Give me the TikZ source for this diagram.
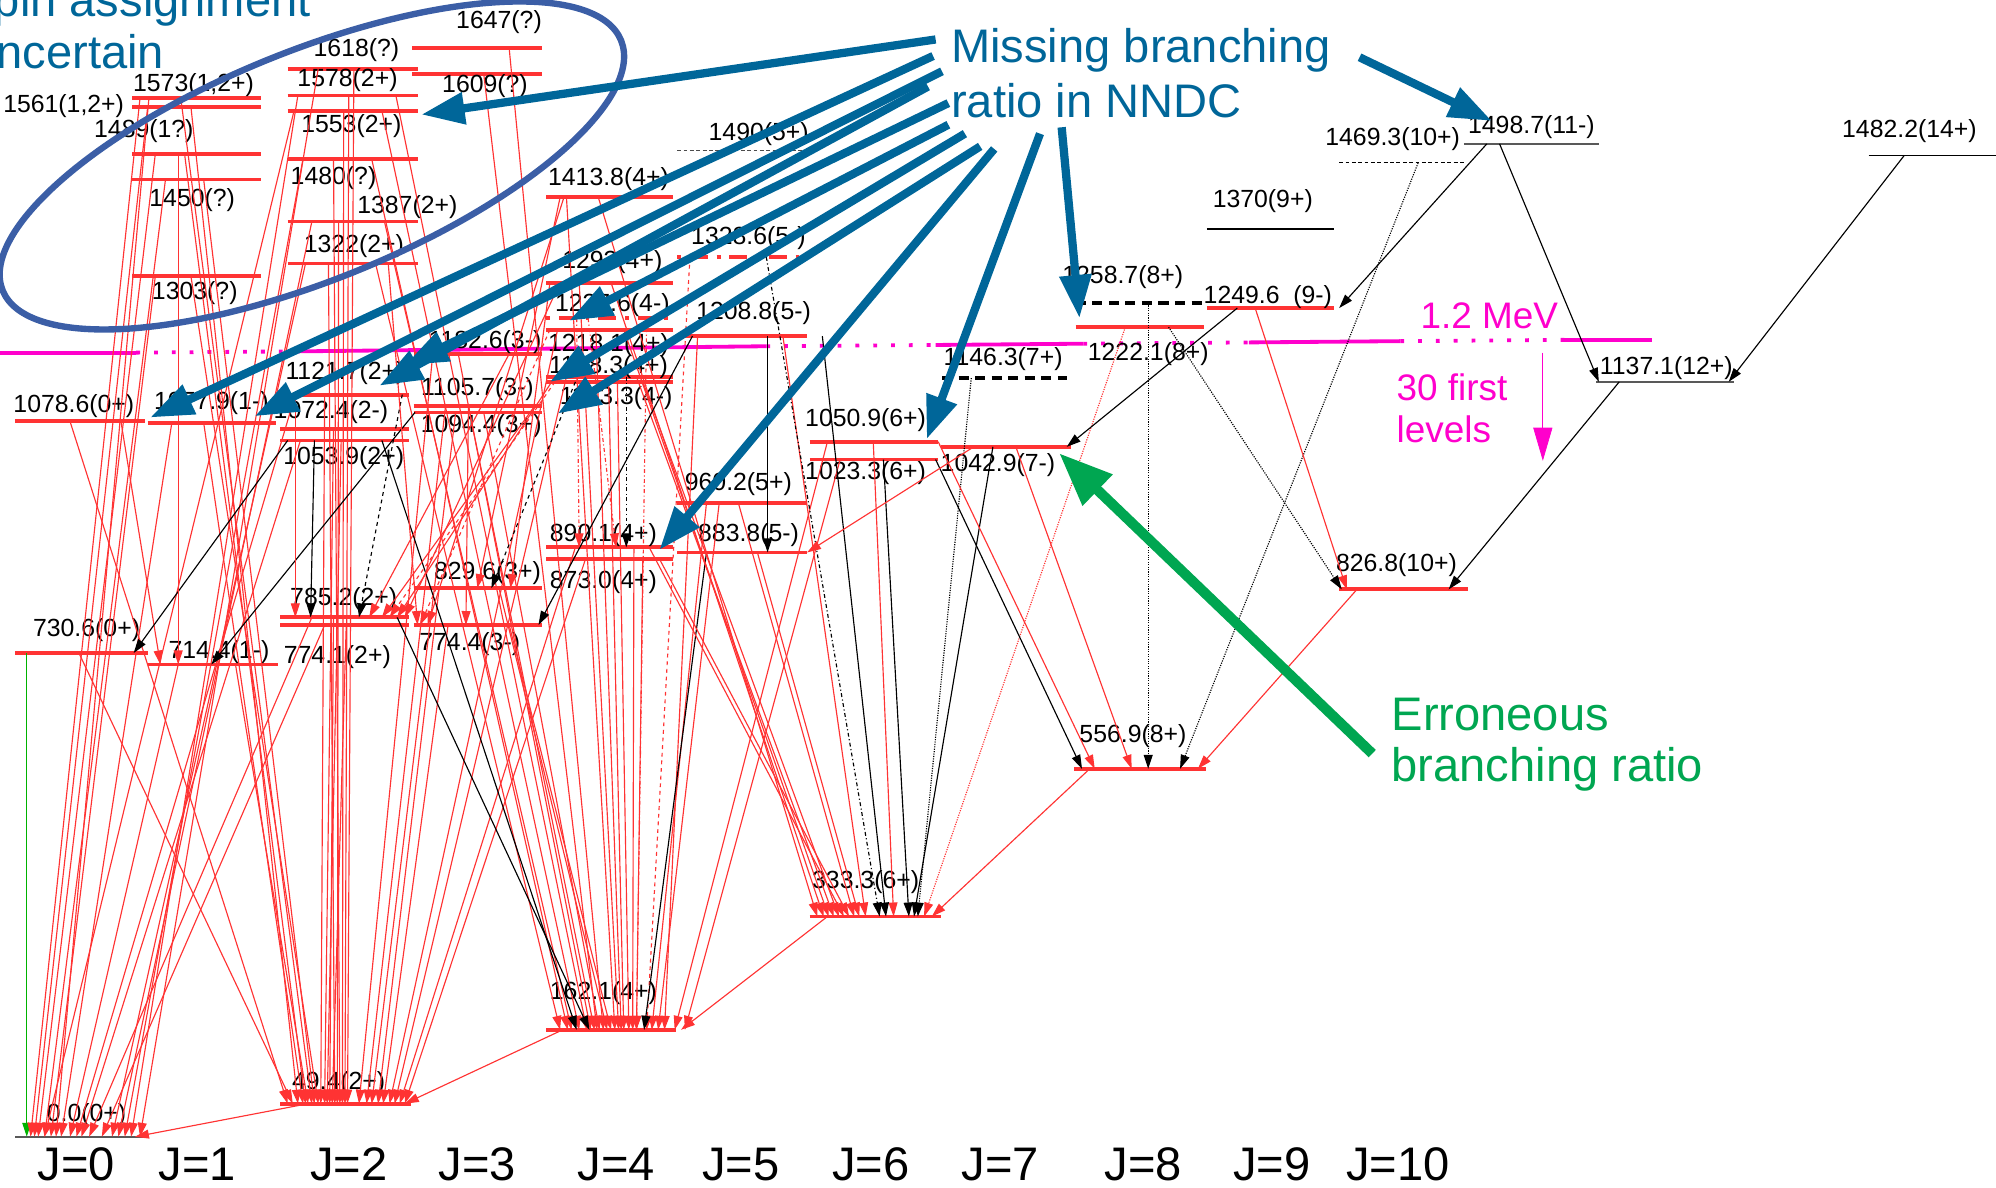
\documentclass[tikz,border=0pt]{standalone}
\usepackage{fontspec}
\setmainfont{Liberation Sans}
\usetikzlibrary{arrows.meta}
\definecolor{levred}{HTML}{FF3333}
\definecolor{annblue}{HTML}{006699}
\definecolor{ellblue}{HTML}{3B5EA6}
\definecolor{errgreen}{HTML}{00A651}
\definecolor{mag}{HTML}{FF00CC}
\newcommand\mytr[5][]{\draw[trn,#1] ([xshift=#3pt]#2) -- ([xshift=#5pt]#4);}
\newcommand\drawlev[4][]{\draw[lev,#1] ([xshift=#3pt]#2) -- ++(#4,0);}
\tikzset{
  lev/.style={draw=levred, line width=3pt},
  thinlev/.style={draw=black, line width=1pt},
  trn/.style={color=levred, line width=0.9pt, -{Triangle[length=11pt,width=7pt]}},
  lab/.style={inner sep=0pt, font=\fontsize{19.5}{22}\selectfont},
  big/.style={inner sep=0pt, font=\fontsize{37}{44}\selectfont},
  jlab/.style={inner sep=0pt, font=\fontsize{37}{40}\selectfont, anchor=base},
  mtext/.style={inner sep=0pt, font=\fontsize{29}{34}\selectfont, text=mag},
  blarrow/.style={draw=annblue, line width=6.5pt, -{Triangle[length=34pt,width=24pt]}},
  magsolid/.style={draw=mag, line width=3pt},
  magdot/.style={draw=mag, line width=3pt, dash pattern=on 3pt off 11pt},
  ddot/.style={dash pattern=on 3pt off 7pt on 14pt off 7pt},
}
\begin{document}
\begin{tikzpicture}[x=1pt,y=-1pt]
\useasboundingbox (0,0) rectangle (1568,933);
% ---------- level coordinates (y of each level, x=0) ----------
\foreach \n/\y in {g0/893, l730/513, l1078a/331, l714/522, l1077/332, l1303/217, l1450/141, l1489/121, l1561/84, l1573/77,
  l49/867, l774a/491, l785/485, l1053/346, l1072/337, l1121/310, l1322/207, l1387/174, l1480/125, l1553/87, l1578/75, l1618/54,
  l1647/38, l1609/58, l1182/278, l1105/319, l1094/324, l829/462, l774b/491,
  l162/809, l873/439, l890/430, l1143/300, l1148/296, l1218/259, l1237/250, l1293/222, l1413/155,
  l883/434, l960/395, l1208/264, l1328/202, l1490/118,
  l333/720, l1023/361, l1050/347, l1042/351, l1146/297,
  l556/604, l1222/257, l1258/238, l1249/242, l1370/180, l826/463, l1469/128, l1498/113, l1137/300, l1482/122}
  {\coordinate (\n) at (0,\y);}

% ---------- 1.2 MeV line ----------
\draw[magsolid] (0,277) -- (107,277);
\draw[magdot] (107,277) -- (236,276);
\draw[magsolid] (236,276) -- (602,272);
\draw[magdot] (602,272) -- (735,271);
\draw[magsolid] (735,271) -- (851,270);
\draw[magdot] (851,270) -- (981,269);
\draw[magsolid] (981,269) -- (1100,268);
\draw[magdot] (1100,268) -- (1229,267);
\draw[magsolid] (1229,267) -- (1298,267);

% ---------- levels ----------
\drawlev[draw=gray!70!black, line width=1.5pt]{g0}{12}{103}
\drawlev{l730}{12}{104}
\drawlev{l1078a}{12}{102}
\drawlev{l714}{116}{102}
\drawlev{l1077}{116}{101}
\drawlev{l1303}{104}{101}
\drawlev{l1450}{104}{101}
\drawlev{l1489}{104}{101}
\drawlev{l1561}{104}{101}
\drawlev{l1573}{104}{101}
\drawlev{l49}{220}{103}
\drawlev{l774a}{220}{101}
\drawlev{l785}{220}{101}
\drawlev{l1053}{220}{101}
\drawlev{l1072}{220}{101}
\drawlev{l1121}{220}{101}
\drawlev{l1322}{226}{102}
\drawlev{l1387}{226}{102}
\drawlev{l1480}{226}{102}
\drawlev{l1553}{226}{102}
\drawlev{l1578}{226}{102}
\drawlev{l1618}{226}{102}
\drawlev{l1647}{324}{102}
\drawlev{l1609}{324}{102}
\drawlev{l1182}{325}{101}
\drawlev{l1105}{325}{101}
\drawlev{l1094}{325}{101}
\drawlev{l829}{325}{101}
\drawlev{l774b}{325}{101}
\drawlev{l162}{429}{102}
\drawlev{l873}{429}{100}
\drawlev{l890}{429}{100}
\drawlev{l1143}{429}{100}
\drawlev{l1148}{429}{100}
\drawlev{l1218}{429}{100}
\drawlev[ddot]{l1237}{429}{100}
\drawlev{l1293}{429}{100}
\drawlev{l1413}{429}{100}
\drawlev{l883}{532}{102}
\drawlev{l960}{532}{102}
\drawlev{l1208}{532}{102}
\drawlev[ddot]{l1328}{532}{102}
\drawlev[draw=gray!60!black, line width=0.7pt, densely dashed]{l1490}{532}{104}
\drawlev{l333}{636}{103}
\drawlev{l1023}{636}{101}
\drawlev{l1050}{636}{101}
\drawlev{l1042}{739}{102}
\drawlev[draw=black, dash pattern=on 8pt off 5pt]{l1146}{740}{98}
\drawlev{l556}{844}{103}
\drawlev{l1222}{845}{101}
\drawlev[draw=black, dash pattern=on 8pt off 5pt]{l1258}{845}{101}
\drawlev{l1249}{948}{100}
\drawlev[thinlev]{l1370}{948}{100}
\drawlev{l826}{1052}{101}
\drawlev[thinlev, densely dashed, line width=0.7pt]{l1469}{1052}{98}
\drawlev[thinlev, draw=gray!70!black, line width=1.3pt]{l1498}{1150}{106}
\drawlev[thinlev, draw=gray!70!black, line width=1.3pt]{l1137}{1254}{108}
\drawlev[thinlev]{l1482}{1468}{100}

% ---------- level labels ----------
\node[lab] (t1647) at (392,17) {1647(?)};
\node[lab] (t1618) at (280,39) {1618(?)};
\node[lab] (t1609) at (381,68) {1609(?)};
\node[lab] (t1573) at (152,67) {1573(1,2+)};
\node[lab] (t1578) at (273,63) {1578(2+)};
\node[lab] (t1561) at (50,83) {1561(1,2+)};
\node[lab] (t1553) at (276,99) {1553(2+)};
\node[lab] (t1489) at (113,103) {1489(1?)};
\node[lab] (t1490) at (596,105) {1490(5+)};
\node[lab] (t1480) at (262,140) {1480(?)};
\node[lab] (t1413) at (478,141) {1413.8(4+)};
\node[lab] (t1450) at (151,157) {1450(?)};
\node[lab] (t1387) at (320,163) {1387(2+)};
\node[lab] (t1322) at (278,193) {1322(2+)};
\node[lab] (t1328) at (588,187) {1328.6(5-)};
\node[lab] (t1293) at (481,206) {1293(4+)};
\node[lab] (t1303) at (153,230) {1303(?)};
\node[lab] (t1237) at (481,240) {1237.6(4-)};
\node[lab] (t1208) at (592,246) {1208.8(5-)};
\node[lab] (t1182) at (381,269) {1182.6(3-)};
\node[lab] (t1218) at (478,271) {1218.1(4+)};
\node[lab] (t1148) at (478,288) {1148.3(4+)};
\node[lab] (t1121) at (271,293) {1121.7(2+)};
\node[lab] (t1105) at (375,306) {1105.7(3-)};
\node[lab] (t1143) at (484,313) {1143.3(4-)};
\node[lab] (t1078a) at (58,319) {1078.6(0+)};
\node[lab] (t1077) at (166,317) {1077.9(1-)};
\node[lab] (t1072) at (260,324) {1072.4(2-)};
\node[lab] (t1094) at (378,335) {1094.4(3+)};
\node[lab] (t1053) at (270,360) {1053.9(2+)};
\node[lab] (t1050) at (680,330) {1050.9(6+)};
\node[lab] (t1023) at (680,372) {1023.3(6+)};
\node[lab] (t1042) at (784,365) {1042.9(7-)};
\node[lab] (t960) at (580,380) {960.2(5+)};
\node[lab] (t890) at (474,420) {890.1(4+)};
\node[lab] (t883) at (588,420) {883.8(5-)};
\node[lab] (t829) at (383,450) {829.6(3+)};
\node[lab] (t873) at (474,457) {873.0(4+)};
\node[lab] (t785) at (270,471) {785.2(2+)};
\node[lab] (t774b) at (369,506) {774.4(3-)};
\node[lab] (t774a) at (265,516) {774.1(2+)};
\node[lab] (t730) at (68,495) {730.6(0+)};
\node[lab] (t714) at (172,512) {714.4(1-)};
\node[lab] (t556) at (890,578) {556.9(8+)};
\node[lab] (t333) at (680,693) {333.3(6+)};
\node[lab] (t162) at (474,780) {162.1(4+)};
\node[lab] (t49) at (266,851) {49.4(2+)};
\node[lab] (tg0) at (68,876) {0.0(0+)};
\node[lab] (t1146) at (788,282) {1146.3(7+)};
\node[lab] (t1258) at (882,218) {1258.7(8+)};
\node[lab] (t1222) at (902,278) {1222.1(8+)};
\node[lab] (t1249) at (996,233) {1249.6\ \ (9-)};
\node[lab] (t1370) at (992,158) {1370(9+)};
\node[lab] (t1469) at (1094,109) {1469.3(10+)};
\node[lab] (t1498) at (1203,100) {1498.7(11-)};
\node[lab] (t1482) at (1500,103) {1482.2(14+)};
\node[lab] (t1137) at (1309,289) {1137.1(12+)};
\node[lab] (t826) at (1097,444) {826.8(10+)};

% ---------- transitions to 0.0 ----------
\draw[trn, color=green!70!black] ([xshift=21pt]l730) -- ([xshift=21pt]g0);
\mytr{l1573}{110}{g0}{24}
\mytr{l1561}{116}{g0}{27}
\mytr{l1489}{122}{g0}{30}
\mytr{l1450}{130}{g0}{35}
\mytr{l1303}{122}{g0}{40}
\mytr{l1573}{117}{g0}{44}
\mytr{l1077}{135}{g0}{48}
\mytr{l714}{140}{g0}{55}
\mytr{l1121}{232}{g0}{60}
\mytr{l1053}{236}{g0}{64}
\mytr{l1553}{231}{g0}{35}
\mytr{l785}{245}{g0}{70}
\mytr{l774a}{255}{g0}{80}
\mytr{l1322}{240}{g0}{88}
\mytr{l1387}{245}{g0}{93}
\mytr{l1480}{238}{g0}{98}
\mytr{l1578}{234}{g0}{103}
\mytr{l1618}{250}{g0}{110}
\mytr{l49}{242}{g0}{106}
% ---------- transitions to 49.4 ----------
\mytr{l1078a}{55}{l49}{226}
\mytr{l730}{62}{l49}{230}
\mytr{l1078a}{95}{l714}{126}
\mytr{l1077}{160}{l49}{238}
\mytr{l714}{185}{l49}{242}
\mytr{l1573}{142}{l49}{245}
\mytr{l1561}{150}{l49}{234}
\mytr{l1489}{145}{l49}{240}
\mytr{l1450}{160}{l49}{247}
\mytr{l1303}{150}{l49}{250}
\mytr{l1121}{255}{l49}{252}
\mytr{l1072}{262}{l49}{255}
\mytr{l1053}{268}{l49}{257}
\mytr{l785}{262}{l49}{259}
\mytr{l774a}{272}{l49}{261}
\mytr{l1322}{258}{l49}{263}
\mytr{l1387}{266}{l49}{265}
\mytr{l1480}{262}{l49}{267}
\mytr{l1553}{270}{l49}{269}
\mytr{l1578}{274}{l49}{271}
\mytr{l1618}{278}{l49}{273}
\mytr{l1182}{340}{l49}{282}
\mytr{l1105}{350}{l49}{288}
\mytr{l1094}{358}{l49}{292}
\mytr{l829}{345}{l49}{297}
\mytr{l774b}{352}{l49}{301}
\mytr{l1218}{438}{l49}{306}
\mytr{l1148}{445}{l49}{310}
\mytr{l890}{452}{l49}{314}
\mytr{l873}{460}{l49}{318}
\mytr{l162}{442}{l49}{318}
% ---------- transitions to 162.1 ----------
\mytr{l1322}{295}{l162}{440}
\mytr{l1480}{292}{l162}{446}
\mytr{l1387}{302}{l162}{449}
\mytr{l1553}{300}{l162}{455}
\mytr{l1578}{311}{l162}{461}
\mytr{l1182}{360}{l162}{464}
\mytr{l1105}{368}{l162}{467}
\mytr{l1609}{380}{l162}{469}
\mytr{l1094}{380}{l162}{471}
\mytr{l1647}{400}{l162}{474}
\mytr{l829}{392}{l162}{477}
\mytr{l774b}{400}{l162}{480}
\mytr{l1413}{445}{l162}{483}
\mytr{l1293}{455}{l162}{486}
\mytr{l1218}{468}{l162}{488}
\mytr{l1148}{478}{l162}{490}
\mytr{l1143}{485}{l162}{494}
\mytr{l890}{498}{l162}{497}
\mytr{l873}{505}{l162}{500}
\mytr{l960}{555}{l162}{512}
\mytr{l960}{565}{l162}{517}
\mytr{l1208}{548}{l162}{522}
\mytr{l1050}{650}{l162}{530}
\mytr{l1023}{660}{l162}{538}
\mytr[dashdotted]{l1237}{508}{l162}{500}
\mytr[dashed]{l1328}{542}{l162}{508}
\mytr[black]{l1053}{300}{l162}{453}
\mytr[black]{l785}{312}{l162}{463}
\mytr[black]{l883}{555}{l162}{506}
% ---------- transitions to 333.3 ----------
\mytr{l1413}{470}{l333}{642}
\mytr{l1293}{480}{l333}{647}
\mytr{l1218}{490}{l333}{651}
\mytr{l1148}{500}{l333}{655}
\mytr{l1143}{505}{l333}{659}
\mytr{l890}{510}{l333}{663}
\mytr{l873}{518}{l333}{667}
\mytr{l960}{580}{l333}{671}
\mytr{l883}{595}{l333}{675}
\mytr{l1208}{615}{l333}{680}
\mytr{l1050}{686}{l333}{702}
\mytr[black]{l1023}{694}{l333}{714}
\mytr[black]{l1042}{780}{l333}{718}
\mytr[black,dashdotted]{l1328}{602}{l333}{691}
\mytr[black]{l1208}{646}{l333}{696}
\mytr[black,densely dotted]{l1146}{763}{l333}{721}
\mytr[densely dotted]{l1222}{884}{l333}{726}
\mytr{l556}{856}{l333}{732}
\mytr{l333}{650}{l162}{535}
% ---------- transitions to 556.9 / 826.8 / high spin ----------
\mytr{l1050}{737}{l556}{860}
\mytr{l1042}{798}{l556}{889}
\mytr[black]{l1023}{735}{l556}{850}
\mytr[black,densely dotted]{l1258}{902}{l556}{902}
\mytr[black,densely dotted]{l1469}{1114}{l556}{927}
\mytr{l826}{1066}{l556}{941}
\mytr{l1249}{986}{l826}{1058}
\mytr[black]{l1249}{972}{l1042}{838}
\mytr[black,densely dotted]{l1222}{918}{l826}{1054}
\mytr[black]{l1498}{1178}{l1137}{1256}
\mytr[black]{l1482}{1496}{l1137}{1358}
\mytr[black]{l1498}{1168}{l1249}{1052}
\mytr[black]{l1137}{1272}{l826}{1138}
% ---------- intermediate transitions ----------
\mytr{l1042}{765}{l883}{634}
\mytr[black]{l1208}{603}{l883}{603}
\mytr[black]{l1208}{544}{l774b}{423}
\mytr[black,dashed]{l1143}{452}{l829}{386}
\mytr[black,dashdotted]{l1148}{492}{l890}{492}
\mytr[dashdotted]{l1237}{453}{l890}{455}
\mytr[dashdotted]{l1237}{462}{l890}{484}
\mytr[black]{l1053}{226}{l730}{105}
\mytr[black]{l1094}{326}{l714}{166}
\mytr[black]{l1053}{247}{l785}{244}
\mytr[black,dashed]{l1121}{316}{l785}{282}
\mytr[dashed]{l1143}{436}{l785}{306}
\mytr[dashed]{l1218}{432}{l774b}{330}
\mytr{l1413}{440}{l829}{375}
\mytr{l1293}{432}{l829}{401}
\mytr{l1121}{232}{l785}{232}
\mytr{l1182}{400}{l785}{290}
\mytr{l1105}{420}{l785}{300}
\mytr{l1148}{436}{l785}{312}
\mytr{l1322}{305}{l774b}{328}
\mytr{l1105}{368}{l774b}{366}
\mytr{l1413}{443}{l774b}{336}
\mytr{l1293}{440}{l785}{318}
\mytr{l1489}{140}{l714}{140}

% ---------- annotations ----------
\node[big, text=annblue, anchor=base west] (pin) at (-5,13) {pin assignment};
\node[big, text=annblue, anchor=base west] (unc) at (-3,54) {ncertain};
\draw[ellblue, line width=5pt, rotate around={22:(245,130)}] (245,130) ellipse [x radius=262pt, y radius=90pt];

\node[big, text=annblue, anchor=base west] (miss1) at (747,49) {Missing branching};
\node[big, text=annblue, anchor=base west] (miss2) at (747,92) {ratio in NNDC};
\coordinate (s1) at (735,31);  \coordinate (e1) at (331,90);
\coordinate (s2) at (733,44);  \coordinate (e2) at (118,328);
\coordinate (s3) at (740,56);  \coordinate (e3) at (200,327);
\coordinate (s4) at (729,68);  \coordinate (e4) at (298,303);
\coordinate (s5) at (745,81);  \coordinate (e5) at (318,287);
\coordinate (s6) at (745,98);  \coordinate (e6) at (447,252);
\coordinate (s7) at (758,105); \coordinate (e7) at (432,300);
\coordinate (s8) at (770,115); \coordinate (e8) at (438,325);
\coordinate (s9) at (781,117); \coordinate (e9) at (518,432);
\coordinate (s10) at (817,105); \coordinate (e10) at (728,345);
\coordinate (s11) at (834,100); \coordinate (e11) at (848,250);
\coordinate (s12) at (1068,45); \coordinate (e12) at (1172,95);
\foreach \i in {1,...,12} {\draw[blarrow] (s\i) -- (e\i);}

\node[mtext, anchor=base] (mev) at (1170,258) {1.2 MeV};
\node[mtext, anchor=base west] (first) at (1097,315) {30 first};
\node[mtext, anchor=base west] (levs) at (1097,348) {levels};
\coordinate (ma) at (1212,277); \coordinate (mb) at (1212,362);
\draw[mag, line width=0.6pt, -{Triangle[length=26pt,width=15pt]}] (ma) -- (mb);

\node[big, text=errgreen, anchor=base west] (err1) at (1093,574) {Erroneous};
\node[big, text=errgreen, anchor=base west] (err2) at (1093,614) {branching ratio};
\coordinate (ga) at (1078,592); \coordinate (gb) at (832,356);
\draw[errgreen, line width=8pt, -{Triangle[length=42pt,width=32pt]}] (ga) -- (gb);

% ---------- J labels ----------
\foreach \x/\j in {60/0, 155/1, 274/2, 375/3, 484/4, 582/5, 684/6, 786/7, 898/8, 999/9, 1098/10}
  {\node[jlab] (J\j) at (\x,927) {J=\j};}
\end{tikzpicture}
\end{document}
